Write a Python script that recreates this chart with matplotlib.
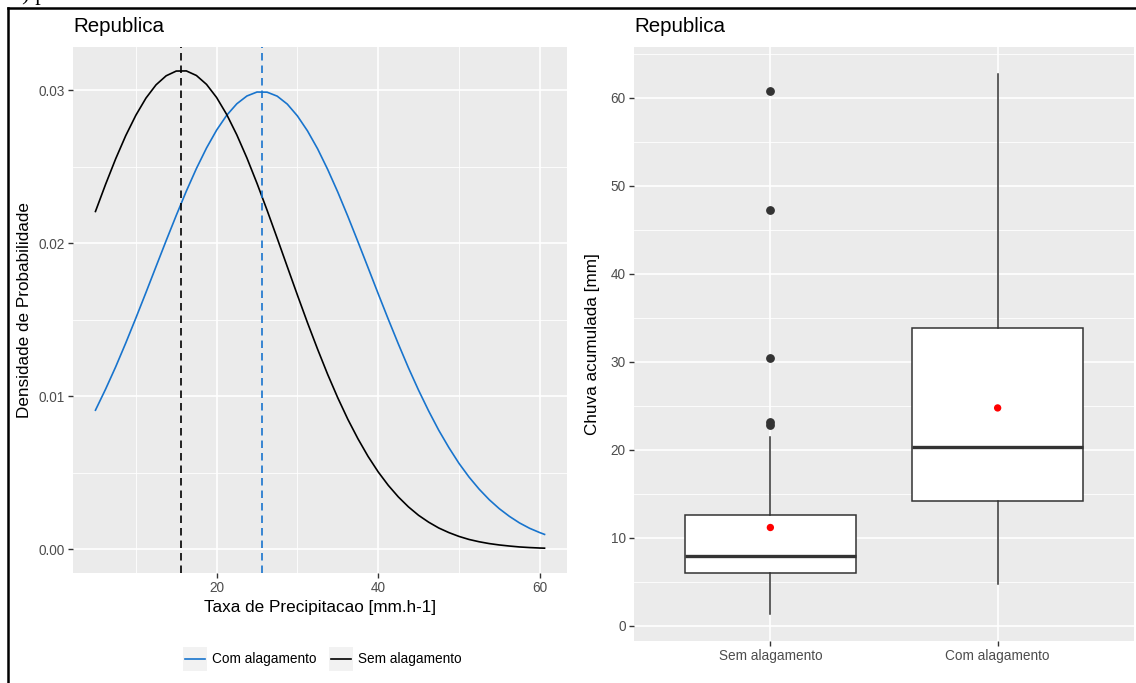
import matplotlib
matplotlib.use("Agg")
import matplotlib.pyplot as plt
from matplotlib.lines import Line2D
from matplotlib.patches import Rectangle

plt.rcParams['font.family'] = ['Liberation Sans', 'DejaVu Sans']

# ---------------- data ----------------
# density curves
x_vals = [5, 6.25, 7.5, 8.75, 10, 11.25, 12.5, 13.75, 15, 16.25, 17.5, 18.75,
          20, 21.25, 22.5, 23.75, 25, 26.25, 27.5, 28.75, 30, 31.25, 32.5,
          33.75, 35, 36.25, 37.5, 38.75, 40, 41.25, 42.5, 43.75, 45, 46.25,
          47.5, 48.75, 50, 51.25, 52.5, 53.75, 55, 56.25, 57.5, 58.75, 60, 60.6]
dens_sem = [0.02207, 0.02384, 0.02551, 0.02703, 0.02836, 0.02948, 0.03035,
            0.03094, 0.03125, 0.03126, 0.03096, 0.03038, 0.02952, 0.02841,
            0.02708, 0.02557, 0.02391, 0.02215, 0.02032, 0.01846, 0.01661,
            0.01480, 0.01307, 0.01142, 0.00989, 0.00848, 0.00721, 0.00606,
            0.00505, 0.00417, 0.00341, 0.00276, 0.00221, 0.00176, 0.00138,
            0.00108, 0.00083, 0.00063, 0.00048, 0.00036, 0.00027, 0.00020,
            0.00014, 0.00010, 0.00007, 0.00006]
dens_com = [0.00908, 0.01045, 0.01191, 0.01347, 0.01510, 0.01677, 0.01847,
            0.02016, 0.02181, 0.02340, 0.02488, 0.02622, 0.02739, 0.02836,
            0.02911, 0.02962, 0.02988, 0.02987, 0.02961, 0.02909, 0.02832,
            0.02734, 0.02617, 0.02482, 0.02334, 0.02175, 0.02009, 0.01840,
            0.01670, 0.01503, 0.01341, 0.01185, 0.01039, 0.00903, 0.00777,
            0.00664, 0.00561, 0.00471, 0.00392, 0.00323, 0.00264, 0.00214,
            0.00171, 0.00136, 0.00108, 0.00096]
mean_sem = 15.65
mean_com = 25.6

# boxplot statistics
categories = ['Sem alagamento', 'Com alagamento']
box_q1 = [6.0, 14.15]
box_med = [7.9, 20.3]
box_q3 = [12.6, 33.8]
box_whislo = [1.33, 4.75]
box_whishi = [21.4, 62.7]
box_mean = [11.16, 24.75]
box_fliers = [[60.8, 47.3, 30.45, 23.2, 22.85], []]

BLUE = '#1874CD'
PANEL = '#EBEBEB'
TICKC = '#4D4D4D'

W, H = 1136, 683
fig = plt.figure(figsize=(W / 100, H / 100), dpi=100)


def frac_x(px):
    return px / W


def frac_y(py):
    return 1 - py / H


def style_ax(ax):
    ax.set_facecolor(PANEL)
    for s in ax.spines.values():
        s.set_visible(False)
    ax.tick_params(axis='both', which='major', length=3.6, width=1.0,
                   color='#333333', labelcolor=TICKC, labelsize=9.85, pad=2.5)
    ax.tick_params(axis='both', which='minor', length=0)
    ax.grid(True, which='major', color='white', lw=1.2)
    ax.grid(True, which='minor', color='white', lw=0.6)
    ax.set_axisbelow(True)


# ---------------- left panel ----------------
ax1 = fig.add_axes([frac_x(73), frac_y(573), frac_x(567 - 73), (573 - 47) / H])
style_ax(ax1)
ax1.plot(x_vals, dens_com, color=BLUE, lw=1.2, solid_joinstyle='round')
ax1.plot(x_vals, dens_sem, color='black', lw=1.2, solid_joinstyle='round')
ax1.axvline(mean_sem, color='black', lw=1.2, linestyle=(0, (4.5, 3)))
ax1.axvline(mean_com, color=BLUE, lw=1.2, linestyle=(0, (4.5, 3)))
xr = max(x_vals) - min(x_vals)
ax1.set_xlim(min(x_vals) - 0.05 * xr, max(x_vals) + 0.05 * xr)
ymax = max(dens_sem)
ax1.set_ylim(-0.05 * ymax, ymax * 1.05)
ax1.set_xticks([20, 40, 60])
ax1.set_xticks([10, 30, 50], minor=True)
ax1.set_yticks([0.0, 0.01, 0.02, 0.03])
ax1.set_yticklabels(['0.00', '0.01', '0.02', '0.03'])
ax1.set_yticks([0.005, 0.015, 0.025], minor=True)
ax1.set_xlabel('Taxa de Precipitacao [mm.h-1]', fontsize=12.3, color='black', labelpad=3)
ax1.set_ylabel('Densidade de Probabilidade', fontsize=12.3, color='black')
ax1.yaxis.set_label_coords((32 - 73) / (567 - 73), 0.5)
ax1.set_title('Republica', loc='left', fontsize=14.8, pad=11)

# ---------------- right panel ----------------
ax2 = fig.add_axes([frac_x(634), frac_y(641), frac_x(1134 - 634), (641 - 47) / H])
style_ax(ax2)
stats = []
for i, c in enumerate(categories):
    stats.append(dict(label=c, q1=box_q1[i], med=box_med[i], q3=box_q3[i],
                      whislo=box_whislo[i], whishi=box_whishi[i],
                      fliers=box_fliers[i]))
positions = [1, 2]
ax2.bxp(stats, positions=positions, widths=0.75, patch_artist=True,
        showcaps=False,
        boxprops=dict(facecolor='white', edgecolor='#333333', lw=1.1),
        medianprops=dict(color='#333333', lw=2.4),
        whiskerprops=dict(color='#333333', lw=1.1),
        flierprops=dict(marker='o', markerfacecolor='#333333',
                        markeredgecolor='#333333', markersize=5.3))
ax2.scatter(positions, box_mean, color='red', s=28, zorder=5, edgecolors='none')
ax2.set_xlim(0.4, 2.6)
allv = box_whislo + box_whishi + sum(box_fliers, [])
lo, hi = min(allv), max(allv)
r = hi - lo
ax2.set_ylim(lo - 0.05 * r, hi + 0.05 * r)
ax2.set_yticks([0, 10, 20, 30, 40, 50, 60])
ax2.set_yticks([5, 15, 25, 35, 45, 55, 65], minor=True)
ax2.set_xticks(positions)
ax2.set_xticklabels(categories)
ax2.set_ylabel('Chuva acumulada [mm]', fontsize=12.3, color='black')
ax2.yaxis.set_label_coords((600 - 634) / (1134 - 634), 0.5)
ax2.set_title('Republica', loc='left', fontsize=14.8, pad=11)

# ---------------- legend (bottom of left panel) ----------------
def legend_item(x0, color, label):
    fig.patches.append(Rectangle((frac_x(x0), frac_y(671)), 24 / W, 24 / H,
                                 transform=fig.transFigure, facecolor='#F2F2F2',
                                 edgecolor='none'))
    fig.lines.append(Line2D([frac_x(x0 + 2), frac_x(x0 + 22)], [frac_y(659)] * 2,
                            transform=fig.transFigure, color=color, lw=1.2))
    fig.text(frac_x(x0 + 29), frac_y(659), label, fontsize=9.85,
             va='center', ha='left', color='black')

legend_item(183, BLUE, 'Com alagamento')
legend_item(329, 'black', 'Sem alagamento')

# ---------------- frame and clipped caption ----------------
fig.lines.append(Line2D([frac_x(8), frac_x(8)], [frac_y(8), 0],
                        transform=fig.transFigure, color='black', lw=1.8))
fig.lines.append(Line2D([frac_x(8), 1], [frac_y(8), frac_y(8)],
                        transform=fig.transFigure, color='black', lw=1.8))
fig.text(frac_x(11), frac_y(0), 'b) p', fontsize=16, family='Liberation Serif',
         va='baseline', ha='left')

fig.savefig('out.png', dpi=100)
